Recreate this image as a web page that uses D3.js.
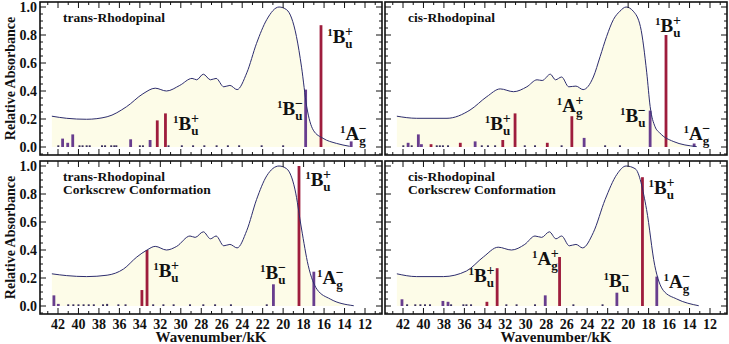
<!DOCTYPE html>
<html>
<head>
<meta charset="utf-8">
<script src="https://cdn.jsdelivr.net/npm/d3@7"></script>
<style>
    body { margin: 0; background: #fff; }
    text { font-family: "Liberation Serif", "Times New Roman", serif; font-weight: bold; fill: #111; }
</style>
</head>
<body>
<div id="wrapper"></div>
<script>
// ---- data (wavenumber in kK, relative absorbance) ----
// trans-Rhodopinal
const transCurveWn = [42.6, 41.15, 39.2, 37.2, 35.3, 33.7, 32.5, 31.4, 30.1, 28.9, 28.45, 27.8, 27.1, 26.55, 25.8, 25.2, 24.5, 23.55, 22.6, 21.6, 20.4, 19.65, 18.7, 18.2, 17.7, 17.05, 16.1, 14.8, 13.5];
const transCurveAbs = [0.22, 0.205, 0.198, 0.216, 0.288, 0.38, 0.42, 0.40, 0.44, 0.49, 0.48, 0.52, 0.48, 0.49, 0.43, 0.44, 0.41, 0.53, 0.74, 0.91, 1.0, 0.98, 0.79, 0.57, 0.29, 0.12, 0.062, 0.026, 0.005];
const transBarWn = [41.97, 41.55, 41.05, 40.56, 39.9, 39.6, 39.2, 38.9, 37.7, 37.4, 36.8, 36.5, 36.3, 34.9, 34.0, 33.7, 33.0, 32.3, 31.5, 31.2, 29.9, 28.8, 27.7, 26.5, 25.4, 24.3, 22.1, 20.0, 17.8, 16.3, 13.35];
const transBarHeight = [0.012, 0.06, 0.03, 0.09, 0.012, 0.012, 0.012, 0.012, 0.012, 0.012, 0.012, 0.012, 0.012, 0.055, 0.012, 0.012, 0.05, 0.19, 0.24, 0.012, 0.012, 0.012, 0.012, 0.012, 0.012, 0.012, 0.012, 0.012, 0.41, 0.87, 0.04];
const transBarKind = ["d", "m", "m", "m", "d", "d", "d", "d", "d", "d", "d", "d", "d", "m", "d", "d", "m", "p", "p", "d", "d", "d", "d", "d", "d", "d", "d", "d", "m", "p", "m"];
const transLabels = [
    { letter: "B", sub: "u", sign: "+", wn: 30.76, abs: 0.12 },
    { letter: "B", sub: "u", sign: "−", wn: 20.6, abs: 0.23 },
    { letter: "B", sub: "u", sign: "+", wn: 15.7, abs: 0.74 },
    { letter: "A", sub: "g", sign: "−", wn: 14.45, abs: 0.05 },
];

// cis-Rhodopinal
const cisCurveWn = [42.6, 40.66, 37.7, 35.45, 33.8, 32.5, 31.2, 29.9, 28.9, 28.4, 27.6, 27.1, 26.5, 25.8, 25.1, 24.4, 23.4, 22.74, 22.1, 21.44, 20.8, 20.2, 19.5, 18.8, 18.18, 17.85, 17.37, 16.9, 15.6, 13.3];
const cisCurveAbs = [0.22, 0.205, 0.205, 0.264, 0.36, 0.415, 0.395, 0.43, 0.48, 0.475, 0.52, 0.48, 0.50, 0.43, 0.435, 0.41, 0.50, 0.645, 0.79, 0.91, 0.97, 1.0, 0.97, 0.86, 0.53, 0.29, 0.145, 0.10, 0.04, 0.003];
const cisBarWn = [41.97, 41.5, 41.15, 40.5, 40.2, 39.26, 38.7, 38.4, 38.1, 37.6, 36.4, 34.95, 34.3, 33.7, 33.0, 32.25, 31.05, 30.1, 29.1, 27.9, 26.5, 25.5, 24.3, 22.25, 20.8, 17.85, 16.3, 13.55];
const cisBarHeight = [0.012, 0.03, 0.012, 0.09, 0.02, 0.02, 0.012, 0.012, 0.012, 0.012, 0.03, 0.04, 0.012, 0.012, 0.012, 0.05, 0.24, 0.012, 0.012, 0.03, 0.012, 0.22, 0.065, 0.012, 0.012, 0.26, 0.80, 0.025];
const cisBarKind = ["d", "m", "d", "m", "m", "p", "d", "d", "d", "d", "p", "m", "d", "d", "d", "p", "p", "d", "d", "p", "d", "p", "m", "d", "d", "m", "p", "m"];
const cisLabels = [
    { letter: "B", sub: "u", sign: "+", wn: 34.0, abs: 0.12 },
    { letter: "A", sub: "g", sign: "+", wn: 26.97, abs: 0.25 },
    { letter: "B", sub: "u", sign: "−", wn: 20.8, abs: 0.18 },
    { letter: "B", sub: "u", sign: "+", wn: 17.37, abs: 0.82 },
    { letter: "A", sub: "g", sign: "−", wn: 14.6, abs: 0.05 },
];

// trans-Rhodopinal, corkscrew conformation
const transCorkCurveWn = [42.6, 41.15, 39.2, 37.2, 35.6, 34.3, 33.3, 32.5, 31.4, 30.4, 29.1, 28.6, 27.8, 27.1, 26.55, 25.8, 25.2, 24.5, 23.55, 22.6, 21.6, 20.4, 19.65, 18.85, 18.2, 17.55, 16.7, 15.4, 13.1];
const transCorkCurveAbs = [0.23, 0.217, 0.21, 0.22, 0.264, 0.35, 0.40, 0.426, 0.40, 0.426, 0.50, 0.49, 0.53, 0.48, 0.50, 0.43, 0.44, 0.415, 0.54, 0.76, 0.93, 1.0, 0.98, 0.835, 0.55, 0.29, 0.12, 0.05, 0.002];
const transCorkBarWn = [42.4, 41.97, 41.0, 40.5, 40.0, 39.5, 39.0, 38.5, 37.6, 37.2, 36.1, 35.4, 33.8, 33.3, 32.7, 31.7, 30.7, 29.1, 27.8, 26.65, 25.1, 21.6, 20.95, 18.45, 17.0];
const transCorkBarHeight = [0.076, 0.015, 0.012, 0.012, 0.012, 0.012, 0.012, 0.012, 0.012, 0.015, 0.012, 0.012, 0.114, 0.40, 0.012, 0.012, 0.012, 0.012, 0.012, 0.012, 0.012, 0.012, 0.155, 1.0, 0.245];
const transCorkBarKind = ["m", "m", "d", "d", "d", "d", "d", "d", "d", "d", "d", "d", "p", "p", "d", "d", "d", "d", "d", "d", "d", "d", "m", "p", "m"];
const transCorkLabels = [
    { letter: "B", sub: "u", sign: "+", wn: 17.85, abs: 0.86 },
    { letter: "B", sub: "u", sign: "+", wn: 32.7, abs: 0.205 },
    { letter: "B", sub: "u", sign: "−", wn: 22.25, abs: 0.19 },
    { letter: "A", sub: "g", sign: "−", wn: 16.7, abs: 0.157 },
];

// cis-Rhodopinal, corkscrew conformation
const cisCorkCurveWn = [42.6, 40.66, 38.06, 35.8, 34.15, 32.7, 31.4, 30.1, 29.1, 28.45, 27.7, 27.05, 26.5, 25.75, 25.1, 24.45, 23.4, 22.25, 21.1, 20.2, 19.3, 18.2, 17.4, 16.55, 15.25, 13.1];
const cisCorkCurveAbs = [0.23, 0.21, 0.21, 0.25, 0.35, 0.42, 0.40, 0.44, 0.50, 0.49, 0.53, 0.48, 0.50, 0.43, 0.44, 0.415, 0.525, 0.76, 0.94, 1.0, 0.98, 0.69, 0.29, 0.11, 0.05, 0.002];
const cisCorkBarWn = [42.1, 41.6, 40.8, 40.3, 39.85, 39.36, 38.1, 37.6, 37.3, 36.1, 35.8, 35.35, 33.8, 32.8, 31.9, 30.9, 29.1, 28.1, 26.7, 25.35, 22.5, 21.1, 18.6, 17.2];
const cisCorkBarHeight = [0.048, 0.012, 0.012, 0.012, 0.012, 0.012, 0.036, 0.03, 0.012, 0.012, 0.012, 0.012, 0.03, 0.27, 0.012, 0.012, 0.012, 0.076, 0.35, 0.012, 0.012, 0.095, 0.92, 0.21];
const cisCorkBarKind = ["m", "d", "d", "d", "d", "d", "m", "m", "d", "d", "d", "d", "p", "p", "d", "d", "d", "m", "p", "d", "d", "m", "p", "m"];
const cisCorkLabels = [
    { letter: "B", sub: "u", sign: "+", wn: 18.0, abs: 0.80 },
    { letter: "A", sub: "g", sign: "+", wn: 29.4, abs: 0.29 },
    { letter: "B", sub: "u", sign: "+", wn: 35.6, abs: 0.175 },
    { letter: "B", sub: "u", sign: "−", wn: 22.4, abs: 0.134 },
    { letter: "A", sub: "g", sign: "−", wn: 16.55, abs: 0.126 },
];

const xTickValues = [42, 40, 38, 36, 34, 32, 30, 28, 26, 24, 22, 20, 18, 16, 14, 12];
const yTickValues = [0, 0.2, 0.4, 0.6, 0.8, 1.0];

function draw() {
    const width = 729;
    const height = 344;
    const frameWidth = 342;
    const frameHeight = 153;
    const colX = [40, 385];
    const rowY = [2, 161];

    const kindColor = { p: "#9e1d3d", m: "#683d8e", d: "#3a2f5e" };

    const svg = d3.select("#wrapper")
        .append("svg")
        .attr("width", width)
        .attr("height", height);

    const panels = [
        { title: ["trans-Rhodopinal"], wn: transCurveWn, abs: transCurveAbs, barWn: transBarWn, barH: transBarHeight, barK: transBarKind, labels: transLabels, col: 0, row: 0 },
        { title: ["cis-Rhodopinal"], wn: cisCurveWn, abs: cisCurveAbs, barWn: cisBarWn, barH: cisBarHeight, barK: cisBarKind, labels: cisLabels, col: 1, row: 0 },
        { title: ["trans-Rhodopinal", "Corkscrew Conformation"], wn: transCorkCurveWn, abs: transCorkCurveAbs, barWn: transCorkBarWn, barH: transCorkBarHeight, barK: transCorkBarKind, labels: transCorkLabels, col: 0, row: 1 },
        { title: ["cis-Rhodopinal", "Corkscrew Conformation"], wn: cisCorkCurveWn, abs: cisCorkCurveAbs, barWn: cisCorkBarWn, barH: cisCorkBarHeight, barK: cisCorkBarKind, labels: cisCorkLabels, col: 1, row: 1 },
    ];

    panels.forEach(p => {
        const x0 = colX[p.col];
        const y0 = rowY[p.row];
        const xScale = d3.scaleLinear().domain([42, 12]).range([x0 + 18, x0 + 325]);
        const yScale = d3.scaleLinear().domain([0, 1]).range([y0 + 145, y0 + 5]);
        const g = svg.append("g");

        // area + curve
        const pts = p.wn.map((w, i) => [w, p.abs[i]]);
        const area = d3.area()
            .x(d => xScale(d[0]))
            .y0(yScale(0))
            .y1(d => yScale(d[1]))
            .curve(d3.curveMonotoneX);
        const line = d3.line()
            .x(d => xScale(d[0]))
            .y(d => yScale(d[1]))
            .curve(d3.curveMonotoneX);
        g.append("path").attr("d", area(pts)).attr("fill", "#fdfce8");

        // transitions
        const bars = p.barWn.map((w, i) => ({ wn: w, h: p.barH[i], k: p.barK[i] }));
        g.selectAll(".bar")
            .data(bars)
            .enter()
            .append("rect")
            .attr("class", "bar")
            .attr("x", d => xScale(d.wn) - (d.k === "d" ? 1 : 1.4))
            .attr("width", d => d.k === "d" ? 2 : 2.8)
            .attr("y", d => yScale(d.h))
            .attr("height", d => yScale(0) - yScale(d.h))
            .attr("fill", d => kindColor[d.k]);

        g.append("path").attr("d", line(pts))
            .attr("fill", "none")
            .attr("stroke", "#2d2d6e")
            .attr("stroke-width", 1);

        // frame
        g.append("rect")
            .attr("x", x0).attr("y", y0)
            .attr("width", frameWidth).attr("height", frameHeight)
            .attr("fill", "none").attr("stroke", "#111").attr("stroke-width", 1.6);

        // ticks (inward)
        const xTicks = d3.range(11, 44);
        const yTicks = d3.range(-1, 21).map(i => i * 0.05);
        const tickG = g.append("g").attr("stroke", "#111").attr("stroke-width", 1);
        xTicks.forEach(t => {
            const len = t % 2 === 0 ? 6 : 3;
            const xx = xScale(t);
            tickG.append("line").attr("x1", xx).attr("x2", xx).attr("y1", y0 + frameHeight).attr("y2", y0 + frameHeight - len);
            tickG.append("line").attr("x1", xx).attr("x2", xx).attr("y1", y0).attr("y2", y0 + len);
        });
        yTicks.forEach((t, i) => {
            const len = (i - 1) % 4 === 0 ? 6 : 3;
            const yy = yScale(t);
            tickG.append("line").attr("x1", x0).attr("x2", x0 + len).attr("y1", yy).attr("y2", yy);
            tickG.append("line").attr("x1", x0 + frameWidth).attr("x2", x0 + frameWidth - len).attr("y1", yy).attr("y2", yy);
        });

        // tick labels
        if (p.col === 0) {
            g.selectAll(".ylab")
                .data(yTickValues)
                .enter()
                .append("text")
                .attr("x", x0 - 3)
                .attr("y", d => yScale(d) + 5)
                .attr("text-anchor", "end")
                .style("font-size", "14px")
                .text(d => d3.format(".1f")(d));
            g.append("text")
                .attr("transform", `translate(15,${y0 + frameHeight / 2}) rotate(-90)`)
                .attr("text-anchor", "middle")
                .style("font-size", "14px")
                .text("Relative Absorbance");
        }
        if (p.row === 1) {
            g.selectAll(".xlab")
                .data(xTickValues)
                .enter()
                .append("text")
                .attr("x", d => xScale(d))
                .attr("y", y0 + frameHeight + 15)
                .attr("text-anchor", "middle")
                .style("font-size", "14px")
                .text(d => d);
            g.append("text")
                .attr("x", x0 + frameWidth / 2)
                .attr("y", 342)
                .attr("text-anchor", "middle")
                .style("font-size", "15px")
                .text("Wavenumber/kK");
        }

        // title
        p.title.forEach((t, i) => {
            g.append("text")
                .attr("x", x0 + 23)
                .attr("y", y0 + 20 + i * 13)
                .style("font-size", "13.5px")
                .text(t);
        });

        // state labels: ¹B with stacked subscript and sign, in one text element
        p.labels.forEach(l => {
            const txt = g.append("text")
                .attr("x", xScale(l.wn))
                .attr("y", yScale(l.abs));
            txt.append("tspan").attr("dy", -7).style("font-size", "11px").text("1");
            txt.append("tspan").attr("dy", 7).style("font-size", "19px").text(l.letter);
            txt.append("tspan").attr("dy", 5).style("font-size", "13px").text(l.sub);
            txt.append("tspan")
                .attr("dx", l.sub === "g" ? -7 : -7.5)
                .attr("dy", -12)
                .style("font-size", "14px")
                .text(l.sign);
        });
    });
}

draw();
</script>
</body>
</html>
